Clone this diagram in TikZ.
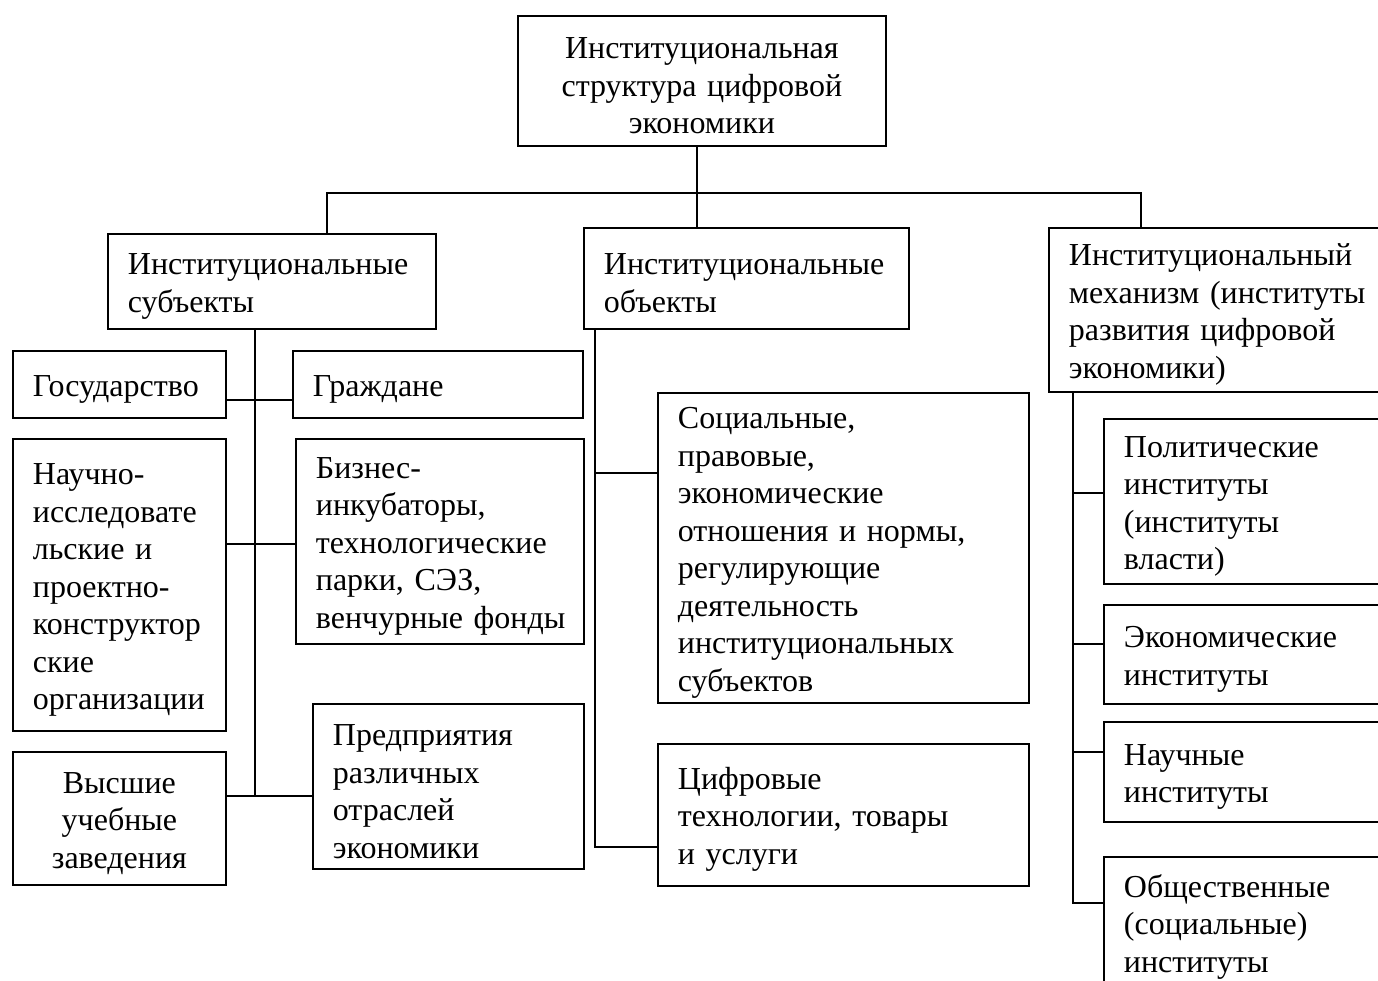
\documentclass[tikz,border=0pt]{standalone}
\usepackage{fontspec}
\setmainfont{Liberation Serif}
\begin{document}
\begin{tikzpicture}[x=1pt,y=-1pt,
  box/.style={draw, line width=1.8pt, anchor=north west, inner xsep=20pt, inner ysep=0pt,
    align=left, font=\fontsize{32}{37.5}\selectfont,
    execute at begin node={\hyphenpenalty=10000\exhyphenpenalty=10000\rule{0pt}{31pt}}},
  link/.style={line width=1.8pt}]
\useasboundingbox (0,0) rectangle (1378,980);
% boxes
\node[box, align=center, text width=328pt, minimum height=130pt] (top) at (517,15)
  {Институциональная\\структура~цифровой\\экономики};
\node[box, text width=288pt, minimum height=95pt] (subj) at (107,233)
  {Институциональные\\субъекты};
\node[box, text width=285pt, minimum height=101pt] (obj) at (583,227)
  {Институциональные\\объекты};
\node[box, text width=300pt, minimum height=164pt] (mech) at (1048,227)
  {Институциональный\\механизм~(институты\\развития~цифровой\\экономики)};
\node[box, text width=173pt, minimum height=67pt] (gos) at (12,350) {Государство};
\node[box, text width=250pt, minimum height=67pt] (grazh) at (292,350) {Граждане};
\node[box, text width=173pt, minimum height=292pt] (nauch) at (12,438)
  {Научно-\\исследовате\\льские~и\\проектно-\\конструктор\\ские\\организации};
\node[box, text width=248pt, minimum height=205pt] (biz) at (295,438)
  {Бизнес-\\инкубаторы,\\технологические\\парки,~СЭЗ,\\венчурные~фонды};
\node[box, align=center, text width=173pt, minimum height=133pt] (vys) at (12,751)
  {Высшие\\учебные\\заведения};
\node[box, text width=231pt, minimum height=165pt] (pred) at (312,703)
  {Предприятия\\различных\\отраслей\\экономики};
\node[box, text width=331pt, minimum height=310pt] (soc) at (657,392)
  {Социальные,\\правовые,\\экономические\\отношения~и~нормы,\\регулирующие\\деятельность\\институциональных\\субъектов};
\node[box, text width=331pt, minimum height=142pt] (cifr) at (657,743)
  {Цифровые\\технологии,~товары\\и~услуги};
\node[box, text width=245pt, minimum height=165pt] (pol) at (1103,418)
  {Политические\\институты\\(институты\\власти)};
\node[box, text width=245pt, minimum height=99pt] (econ) at (1103,604)
  {Экономические\\институты};
\node[box, text width=245pt, minimum height=100pt] (nauchi) at (1103,721)
  {Научные\\институты};
\node[box, text width=245pt, minimum height=132pt] (obsh) at (1103,856)
  {Общественные\\(социальные)\\институты};
% bus
\coordinate (bL) at (327,193);
\coordinate (bC) at (697,193);
\coordinate (bR) at (1141,193);
\draw[link] (bL |- subj.north) -- (bL) -- (bR) -- (bR |- mech.north);
\draw[link] (bC |- top.south) -- (bC |- obj.north);
% left subtree
\coordinate (l1) at (255,400);
\coordinate (l2) at (255,544);
\coordinate (l3) at (255,796);
\draw[link] (l3 |- subj.south) -- (l3);
\draw[link] (gos.east |- l1) -- (grazh.west |- l1);
\draw[link] (nauch.east |- l2) -- (biz.west |- l2);
\draw[link] (vys.east |- l3) -- (pred.west |- l3);
% middle subtree
\coordinate (m1) at (595,473);
\coordinate (m2) at (595,847);
\draw[link] (m2 |- obj.south) -- (m2) -- (cifr.west |- m2);
\draw[link] (m1) -- (soc.west |- m1);
% right subtree
\coordinate (r1) at (1073,493);
\coordinate (r2) at (1073,644);
\coordinate (r3) at (1073,752);
\coordinate (r4) at (1073,903);
\draw[link] (r4 |- mech.south) -- (r4) -- (obsh.west |- r4);
\draw[link] (r1) -- (pol.west |- r1);
\draw[link] (r2) -- (econ.west |- r2);
\draw[link] (r3) -- (nauchi.west |- r3);
\end{tikzpicture}
\end{document}
